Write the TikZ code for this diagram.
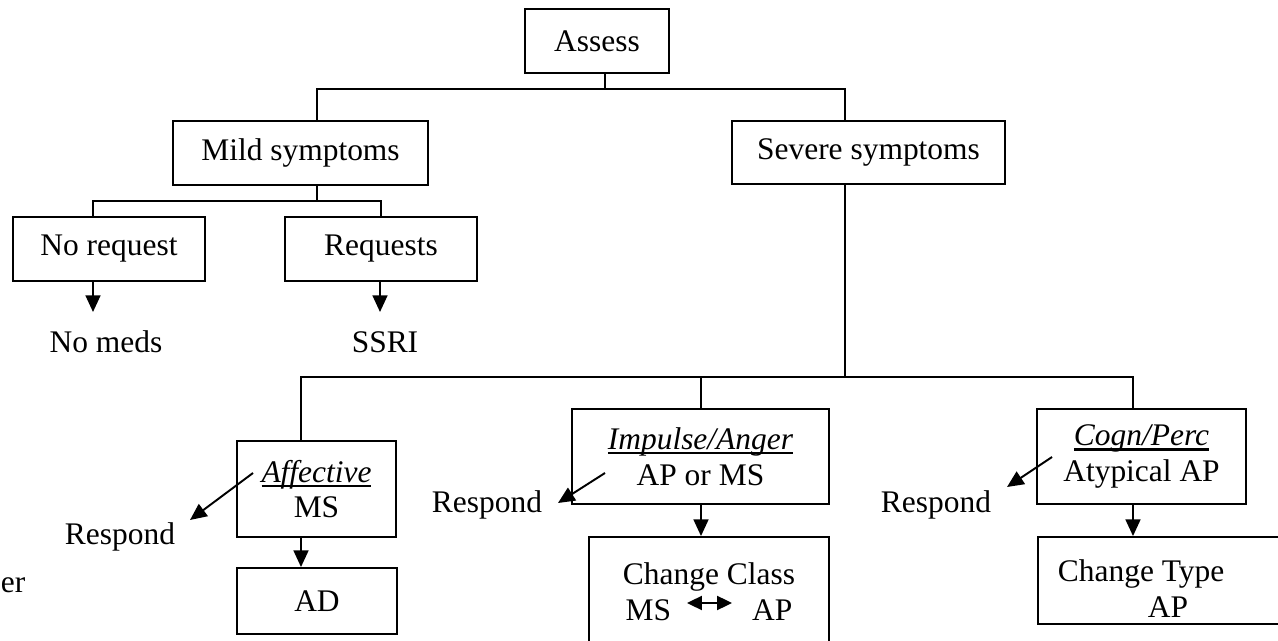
\documentclass[tikz,border=0pt]{standalone}
\usepackage{fontspec}
\setmainfont{Liberation Serif}
\usetikzlibrary{arrows.meta}
\newsavebox{\ulbox}
\newcommand{\uit}[1]{\sbox{\ulbox}{\textit{#1}}\rlap{\rule[-2.8pt]{\wd\ulbox}{1.4pt}}\usebox{\ulbox}}

\begin{document}
\begin{tikzpicture}[x=0.02cm, y=-0.02cm, line width=1.1pt,
    every node/.style={font=\fontsize{17.9pt}{20.3pt}\selectfont},
    box/.style={draw, rectangle, inner sep=0pt, align=center},
    txt/.style={anchor=base, inner sep=0pt},
    arr/.style={-{Triangle[length=9.5pt, width=8.5pt]}},
    dbl/.style={{Triangle[length=8.5pt, width=8pt]}-{Triangle[length=8.5pt, width=8pt]}}]
    \useasboundingbox (0,0) rectangle (1278,641);

    \node[box, minimum width=2.88cm, minimum height=1.28cm] (assess) at (597,41) {Assess};
    \node[box, minimum width=5.1cm, minimum height=1.28cm] (mild) at (300.5,153) {Mild symptoms};
    \node[box, minimum width=5.46cm, minimum height=1.26cm] (severe) at (868.5,152.5) {Severe symptoms};
    \node[box, minimum width=3.84cm, minimum height=1.28cm] (noreq) at (109,249) {No request};
    \node[box, minimum width=3.84cm, minimum height=1.28cm] (req) at (381,249) {Requests};
    \node[txt] (nomeds) at (106,353) {No meds};
    \node[txt] (ssri) at (385,353) {SSRI};
    \node[box, minimum width=3.18cm, minimum height=1.92cm] (affect) at (316.5,489) {\uit{Affective}\\MS};
    \node[box, minimum width=3.2cm, minimum height=1.32cm] (ad) at (317,601) {AD};
    \node[box, minimum width=5.14cm, minimum height=1.9cm] (impulse) at (700.5,456.5) {\uit{Impulse/Anger}\\AP or MS};
    \node[box, minimum width=4.8cm, minimum height=2.2cm] (cclass) at (709,592) {Change Class\\MS\hspace{1.62cm}AP};
    \node[box, minimum width=4.18cm, minimum height=1.9cm] (cogn) at (1141.5,456.5) {\uit{Cogn/Perc}\\Atypical AP};
    \node[box, anchor=west, inner xsep=0.4cm, text width=4.46cm, align=flush left, minimum height=1.74cm] (ctype) at (1037,580.5) {\rule{0pt}{1.2em}Change Type\\\hspace*{1.8cm}AP};
    \node[txt] (resp1) at (120,545) {Respond};
    \node[txt] (resp2) at (487,513) {Respond};
    \node[txt] (resp3) at (936,513) {Respond};
    \node[txt, anchor=base west] (er) at (0,593) {er};

    \coordinate (j0) at (605,89);
    \coordinate (jl) at (317,89);
    \coordinate (jr) at (845,89);
    \coordinate (j1) at (317,201);
    \coordinate (j1l) at (93,201);
    \coordinate (j1r) at (381,201);
    \coordinate (j2) at (845,377);
    \coordinate (j2l) at (301,377);
    \coordinate (j2m) at (701,377);
    \coordinate (j2r) at (1133,377);
    \coordinate (d1) at (93,312);
    \coordinate (d2) at (380,312);
    \coordinate (ra1) at (253,473);
    \coordinate (rb1) at (190,520);
    \coordinate (ra2) at (605,473);
    \coordinate (rb2) at (558,503);
    \coordinate (ra3) at (1052,457);
    \coordinate (rb3) at (1007,487);

    \draw (assess.south -| j0) -- (j0);
    \draw (mild.north -| jl) -- (jl) -- (jr) -- (severe.north -| jr);
    \draw (mild.south -| j1) -- (j1);
    \draw (noreq.north -| j1l) -- (j1l) -- (j1r) -- (req.north -| j1r);
    \draw[arr] (noreq.south -| d1) -- (d1);
    \draw[arr] (req.south -| d2) -- (d2);
    \draw (severe.south -| j2) -- (j2);
    \draw (affect.north -| j2l) -- (j2l) -- (j2r) -- (cogn.north -| j2r);
    \draw (j2m) -- (impulse.north -| j2m);
    \draw[arr] (affect.south -| j2l) -- (ad.north -| j2l);
    \draw[arr] (impulse.south -| j2m) -- (cclass.north -| j2m);
    \draw[arr] (cogn.south -| j2r) -- (ctype.north -| j2r);
    \draw[arr] (ra1) -- (rb1);
    \draw[arr] (ra2) -- (rb2);
    \draw[arr] (ra3) -- (rb3);
    \draw[dbl] ([shift={(-22,11)}]cclass.center) -- ([shift={(23,11)}]cclass.center);
\end{tikzpicture}
\end{document}
